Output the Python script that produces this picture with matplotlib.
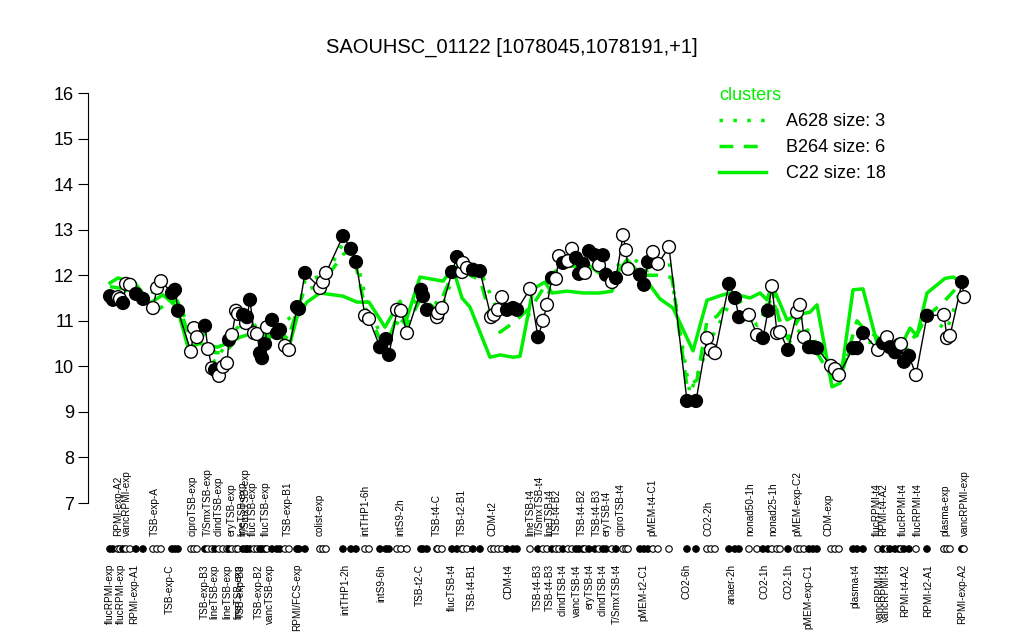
import matplotlib
matplotlib.use("Agg")
import matplotlib.pyplot as plt
from matplotlib.lines import Line2D

plt.rcParams['font.family'] = ['Liberation Sans', 'DejaVu Sans']

GREEN = '#00ee00'

# sample positions (ordering along the condition axis), values and fill (1 = filled)
pos = [110, 113, 118, 120, 123, 126, 130, 136, 143, 153, 157, 161, 172, 175, 178,
       191, 194, 197, 205, 208, 212, 215, 219, 223, 227, 229, 232, 236, 238, 243,
       246, 247, 250, 254, 257, 260, 262, 265, 267, 272, 277, 280, 285, 289, 297,
       299, 305, 320, 323, 326, 343, 351, 356, 365, 369, 380, 386, 389, 397, 401,
       407, 421, 423, 427, 437, 438, 442, 452, 457, 462, 463, 467, 473, 480, 491,
       494, 498, 502, 507, 513, 517, 530, 538, 543, 547, 552, 556, 559, 563, 568,
       572, 576, 579, 583, 585, 589, 595, 599, 603, 606, 612, 616, 623, 626, 628,
       640, 644, 648, 653, 658, 669, 687, 696, 707, 711, 715, 729, 735, 739, 749,
       757, 763, 768, 772, 777, 780, 788, 797, 800, 804, 809, 813, 817, 831, 835,
       839, 853, 857, 863, 878, 883, 887, 890, 895, 899, 901, 904, 909, 916, 927,
       944, 947, 950, 962, 964]
values = [11.54, 11.46, 11.52, 11.48, 11.39, 11.81, 11.79, 11.59, 11.48, 11.28, 11.72, 11.87, 11.61, 11.68, 11.22,
          10.32, 10.84, 10.64, 10.89, 10.38, 9.96, 9.92, 9.79, 9.99, 10.07, 10.58, 10.69, 11.22, 11.15, 11.13,
          10.95, 11.08, 11.46, 10.73, 10.71, 10.29, 10.18, 10.49, 10.86, 11.02, 10.73, 10.80, 10.45, 10.36, 11.30,
          11.26, 12.05, 11.72, 11.85, 12.05, 12.86, 12.58, 12.29, 11.11, 11.04, 10.42, 10.60, 10.25, 11.24, 11.22,
          10.73, 11.68, 11.54, 11.24, 11.08, 11.17, 11.28, 12.07, 12.40, 12.07, 12.27, 12.16, 12.12, 12.09, 11.08,
          11.13, 11.24, 11.52, 11.24, 11.28, 11.24, 11.70, 10.64, 11.00, 11.35, 11.94, 11.92, 12.42, 12.27, 12.31,
          12.58, 12.38, 12.03, 12.25, 12.05, 12.53, 12.44, 12.22, 12.44, 12.01, 11.85, 11.94, 12.88, 12.55, 12.14,
          12.01, 11.79, 12.29, 12.51, 12.25, 12.62, 9.24, 9.24, 10.62, 10.36, 10.29, 11.81, 11.50, 11.08, 11.13,
          10.69, 10.62, 11.22, 11.76, 10.73, 10.75, 10.36, 11.19, 11.35, 10.64, 10.42, 10.42, 10.40, 10.01, 9.94,
          9.81, 10.40, 10.40, 10.73, 10.36, 10.51, 10.64, 10.42, 10.31, 10.47, 10.49, 10.10, 10.23, 9.81, 11.11,
          11.13, 10.62, 10.67, 11.85, 11.52]
filled = [1, 1, 0, 0, 1, 0, 0, 1, 1, 0, 0, 0, 1, 1, 1,
          0, 0, 0, 1, 0, 0, 1, 0, 0, 0, 1, 0, 0, 0, 1,
          0, 1, 1, 0, 0, 1, 1, 1, 0, 1, 1, 1, 0, 0, 1,
          1, 1, 0, 0, 0, 1, 1, 1, 0, 0, 1, 1, 1, 0, 0,
          0, 1, 1, 1, 0, 0, 0, 1, 1, 0, 0, 0, 1, 1, 0,
          0, 0, 0, 1, 1, 1, 0, 1, 0, 0, 1, 0, 0, 1, 0,
          0, 1, 1, 1, 0, 1, 1, 0, 1, 1, 0, 1, 0, 0, 0,
          1, 1, 1, 0, 0, 0, 1, 1, 0, 0, 0, 1, 1, 1, 0,
          0, 1, 1, 0, 0, 0, 1, 0, 0, 0, 1, 1, 1, 0, 0,
          0, 1, 1, 1, 0, 1, 0, 1, 1, 1, 0, 1, 1, 0, 1,
          0, 0, 0, 1, 0]

# cluster profiles
c22_pos = [110, 118, 135, 150, 163, 177, 188, 200, 217, 227, 240, 253, 267, 280, 290,
           297, 307, 320, 343, 357, 369, 385, 400, 406, 420, 443, 453, 462, 470, 490,
           500, 513, 520, 533, 545, 552, 567, 583, 600, 612, 617, 627, 647, 660, 673,
           693, 707, 720, 730, 750, 760, 767, 772, 787, 797, 810, 817, 832, 840, 853,
           863, 877, 888, 900, 910, 917, 927, 945, 953, 962]
c22_val = [11.83, 11.94, 11.83, 11.39, 11.57, 11.30, 10.42, 10.50, 10.42, 10.50, 10.64, 10.73, 10.68, 10.64, 10.50,
           11.08, 11.41, 11.61, 11.54, 11.41, 11.41, 10.86, 11.43, 11.00, 11.96, 11.87, 12.16, 11.50, 11.30, 10.20,
           10.25, 10.20, 10.22, 11.70, 11.85, 11.61, 11.65, 11.61, 11.61, 11.65, 12.05, 12.34, 11.87, 11.48, 11.28,
           10.34, 11.45, 11.55, 11.61, 11.50, 11.61, 11.46, 11.79, 11.02, 11.13, 11.19, 11.35, 9.55, 9.63, 11.68,
           11.70, 10.51, 10.51, 10.40, 10.84, 10.67, 11.61, 11.93, 11.96, 11.85]

b264_pos = [110, 125, 143, 155, 165, 177, 190, 205, 215, 225, 233, 240, 250, 262, 275,
            288, 298, 305, 320, 343, 351, 356, 365, 380, 389, 397, 407, 421, 437, 452,
            460, 470, 480, 492, 500, 513, 533, 550, 560, 575, 590, 605, 615, 623, 640,
            657, 672, 687, 697, 707, 717, 733, 750, 763, 772, 780, 788, 800, 810, 832,
            840, 857, 863, 880, 900, 913, 927, 943, 962]
b264_val = [11.75, 11.70, 11.40, 11.20, 11.35, 11.45, 10.60, 10.70, 10.30, 10.30, 10.50, 10.85, 10.90, 10.60, 10.85,
            10.60, 11.30, 11.70, 11.75, 12.45, 12.60, 12.20, 11.30, 10.60, 10.60, 11.10, 10.90, 11.50, 11.25, 12.00,
            12.30, 12.00, 11.90, 11.00, 10.75, 10.95, 11.35, 11.95, 12.20, 12.20, 12.20, 11.95, 11.95, 12.30, 12.00,
            12.00, 11.95, 9.55, 9.70, 11.00, 11.10, 11.55, 11.00, 11.10, 11.70, 10.95, 10.60, 11.10, 10.55, 9.75,
            9.70, 11.00, 10.85, 10.60, 10.45, 10.55, 11.10, 11.40, 11.85]

a628_pos = [110, 135, 160, 178, 195, 215, 235, 250, 265, 280, 298, 305, 326, 343, 356,
            369, 386, 401, 423, 442, 457, 480, 498, 517, 538, 559, 589, 612, 626, 648,
            669, 690, 711, 735, 757, 772, 788, 804, 817, 835, 857, 883, 904, 927, 947, 962]
a628_val = [11.60, 11.70, 11.60, 11.40, 10.60, 10.10, 10.80, 11.10, 10.50, 10.90, 11.20, 11.90, 12.00, 12.70, 12.40,
            11.20, 10.50, 11.10, 11.60, 11.30, 12.20, 12.10, 11.20, 11.30, 11.00, 12.20, 12.30, 12.00, 12.50, 12.10,
            12.30, 9.40, 10.60, 11.60, 10.90, 11.50, 10.50, 10.90, 10.50, 9.90, 10.50, 10.55, 10.30, 11.10, 10.80, 11.80]

top_labels = ['RPMI-exp-A2', 'vancRPMI-exp', 'TSB-exp-A', 'ciproTSB-exp', 'T/SmxTSB-exp',
              'clindTSB-exp', 'eryTSB-exp', 'lineTSB-exp', 'T/SmxTSB-exp', 'flucTSB-exp',
              'flucTSB-exp', 'TSB-exp-B1', 'colist-exp', 'intTHP1-6h', 'intS9-2h', 'TSB-t4-C',
              'TSB-t2-B1', 'CDM-t2', 'lineTSB-t4', 'T/SmxTSB-t4', 'lineTSB-t4', 'TSB-t4-B2',
              'TSB-t4-B2', 'TSB-t4-B3', 'eryTSB-t4', 'ciproTSB-t4', 'pMEM-t4-C1', 'CO2-2h',
              'nonad50-1h', 'nonad25-1h', 'pMEM-exp-C2', 'CDM-exp', 'flucRPMI-t4', 'RPMI-t4-A2',
              'flucRPMI-t4', 'flucRPMI-t4', 'plasma-exp', 'vancRPMI-exp']
top_pos = [118, 127, 155, 193, 208, 219, 232, 242, 246, 253, 266, 288, 320, 365, 400, 437,
           462, 492, 530, 540, 549, 557, 582, 597, 607, 621, 652, 709, 750, 773, 797, 829,
           877, 883, 903, 918, 945, 965]
bottom_labels = ['flucRPMI-exp', 'flucRPMI-exp', 'RPMI-exp-A1', 'TSB-exp-C', 'TSB-exp-B3',
                 'lineTSB-exp', 'lineTSB-exp', 'lineTSB-exp', 'TSB-exp-B3', 'TSB-exp-B2',
                 'vancTSB-exp', 'RPMI/FCS-exp', 'intTHP1-2h', 'intS9-6h', 'TSB-t2-C',
                 'flucTSB-t4', 'TSB-t4-B1', 'CDM-t4', 'TSB-t4-B3', 'TSB-t4-B3', 'clindTSB-t4',
                 'vancTSB-t4', 'eryTSB-t4', 'clindTSB-t4', 'T/SmxTSB-t4', 'pMEM-t2-C1', 'CO2-6h',
                 'anaer-2h', 'CO2-1h', 'CO2-1h', 'pMEM-exp-C1', 'plasma-t4', 'vancRPMI-t4',
                 'vancRPMI-t4', 'RPMI-t4-A2', 'RPMI-t2-A1', 'RPMI-exp-A2']
bottom_pos = [110, 121, 134, 170, 205, 214, 227, 238, 241, 259, 270, 297, 345, 381, 420,
              452, 472, 508, 538, 550, 563, 577, 590, 603, 617, 643, 687, 732, 765, 788,
              808, 855, 880, 886, 905, 928, 962]

fig = plt.figure(figsize=(10.24, 6.4), dpi=100)
ax = fig.add_axes([88 / 1024, (640 - 503) / 640, (975 - 88) / 1024, 410 / 640])
ax.set_xlim(88, 975)
ax.set_ylim(7, 16)

# cluster lines
ax.plot(c22_pos, c22_val, color=GREEN, lw=2.5, zorder=1)
ax.plot(b264_pos, b264_val, color=GREEN, lw=2.5, ls=(0, (4, 3)), zorder=1)
ax.plot(a628_pos, a628_val, color=GREEN, lw=2.5, ls=(0, (1, 3)), zorder=1)

# gene profile
ax.plot(pos, values, color='black', lw=1, zorder=2)
fc = ['black' if f else 'white' for f in filled]
ax.scatter(pos, values, s=85, c=fc, edgecolors='black', linewidths=1, zorder=3)

# sample marker row under the axis
row_y = 5.99
ax.scatter(pos, [row_y] * len(pos), s=22, c=fc, edgecolors='black', linewidths=0.8,
           clip_on=False, zorder=3)

for lab, p in zip(top_labels, top_pos):
    ax.text(p, 6.28, lab, rotation=90, ha='center', va='bottom', fontsize=7.2, clip_on=False)
for lab, p in zip(bottom_labels, bottom_pos):
    ax.text(p, 5.66, lab, rotation=90, ha='center', va='top', fontsize=7.2, clip_on=False)

# axes styling like base R
for s in ['top', 'right', 'bottom']:
    ax.spines[s].set_visible(False)
ax.spines['left'].set_bounds(7, 16)
ax.set_xticks([])
ax.set_yticks(range(7, 17))
ax.tick_params(axis='y', length=7, labelsize=13, pad=3)

fig.text(0.5, 1 - 47 / 640, 'SAOUHSC_01122 [1078045,1078191,+1]', ha='center', va='center',
         fontsize=14.5)

handles = [Line2D([], [], color=GREEN, lw=2.5, ls=(0, (1, 3))),
           Line2D([], [], color=GREEN, lw=2.5, ls=(0, (4, 3))),
           Line2D([], [], color=GREEN, lw=2.5)]
leg = ax.legend(handles, ['A628 size: 3', 'B264 size: 6', 'C22 size: 18'], title='clusters',
                loc='upper left', bbox_to_anchor=(703 / 1024, 1 - 71 / 640),
                bbox_transform=fig.transFigure, frameon=False, fontsize=13,
                title_fontsize=13, handlelength=2.6, handletextpad=1.1, labelspacing=0.5,
                alignment='left')
leg.get_title().set_color(GREEN)

fig.savefig('out.png', dpi=100)
